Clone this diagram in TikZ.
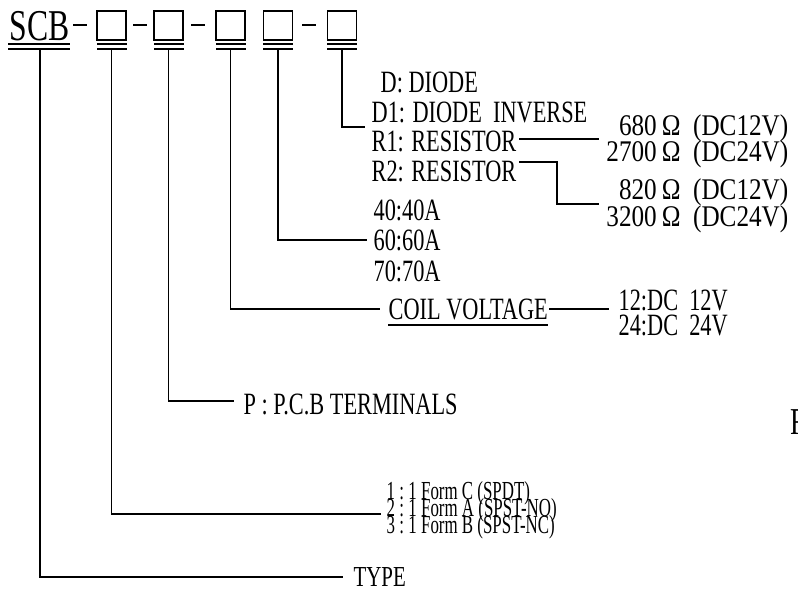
\documentclass[tikz,border=0pt]{standalone}
\usepackage{fontspec}
\setmainfont[FakeStretch=0.72]{Liberation Serif}
\newfontfamily\widefont[FakeStretch=0.84]{Liberation Serif}
\newfontfamily\narrowfont[FakeStretch=0.65]{Liberation Serif}
\usetikzlibrary{calc}

\begin{document}
\begin{tikzpicture}[x=1pt,y=-1pt,line width=1.3pt,line cap=butt,line join=miter,
  txt/.style={inner sep=0pt,anchor=base west,font=\fontsize{31}{33}\selectfont},
  rtxt/.style={inner sep=0pt,anchor=base east,font=\widefont\fontsize{30}{32}\selectfont},
  small/.style={inner sep=0pt,anchor=base west,font=\narrowfont\fontsize{26}{17}\selectfont},
  codebox/.style={draw,line width=1.4pt,minimum size=29pt,inner sep=0pt}]
\useasboundingbox (0,0) rectangle (798,589);

\def\ua{44}
\def\ub{49}

% part number
\node[inner sep=0pt,anchor=base west,font=\fontsize{44}{44}\selectfont] (scb) at (9,40) {SCB};
\node[codebox] (b1) at (111.5,25.5) {};
\node[codebox] (b2) at (168.5,25.5) {};
\node[codebox] (b3) at (230.5,25.5) {};
\node[codebox] (b4) at (278,25.5) {};
\node[codebox] (b5) at (342,25.5) {};

\foreach \xa/\xb in {73/87,133/147,191/205,302/316}
  \draw[line width=1.8pt] (\xa,25) -- (\xb,25);

\foreach \xa/\xb in {8/70,97/127,154/184,216/246,263/293,327/357} {
  \draw (\xa,\ua) -- (\xb,\ua);
  \draw (\xa,\ub) -- (\xb,\ub);
}

\coordinate (t0) at (40,\ub);
\coordinate (t1) at ($(b1.south)+(0,9)$);
\coordinate (t2) at ($(b2.south)+(0,9)$);
\coordinate (t3) at ($(b3.south)+(0,9)$);
\coordinate (t4) at ($(b4.south)+(0,9)$);
\coordinate (t5) at ($(b5.south)+(0,9)$);

% options
\node[txt] (dio) at (380,92) {D: DIODE};
\node[txt] (dinv) at (371,122) {D1: DIODE\ \ INVERSE};
\node[txt] (r1) at (371,151) {R1: RESISTOR};
\node[txt] (r2) at (371,181) {R2: RESISTOR};

\node[rtxt] (o680) at (789,135) {680\,Ω\ \ (DC12V)};
\node[rtxt] (o2700) at (789,161) {2700\,Ω\ \ (DC24V)};
\node[rtxt] (o820) at (789,199) {820\,Ω\ \ (DC12V)};
\node[rtxt] (o3200) at (789,226) {3200\,Ω\ \ (DC24V)};

\node[txt] (a40) at (373,220) {40:40A};
\node[txt] (a60) at (373,250) {60:60A};
\node[txt] (a70) at (373,281) {70:70A};

\node[txt] (coil) at (388,319) {COIL VOLTAGE};
\node[txt] (v12) at (618,310) {12:DC\ \ 12V};
\node[txt] (v24) at (618,335) {24:DC\ \ 24V};

\node[txt] (pcb) at (243,414) {P : P.C.B TERMINALS};

\node[small] (f1) at (386,499) {1\,:\,1 Form C (SPDT)};
\node[small] (f2) at (386,516) {2\,:\,1 Form A (SPST-NO)};
\node[small] (f3) at (386,533) {3\,:\,1 Form B (SPST-NC)};

\node[inner sep=0pt,anchor=base west,font=\fontsize{29}{29}\selectfont] (type) at (353,586) {TYPE};

\node[inner sep=0pt,anchor=base west,font=\fontsize{38}{38}\selectfont] (cut) at (790,434) {F};

% leaders
\coordinate (e5) at (365,127);
\coordinate (e4) at (367,240);
\coordinate (e3) at (380,309);
\coordinate (e2) at (234,401);
\coordinate (e1) at (381,514);
\coordinate (e0) at (343,577);

\draw (t5) |- (e5);
\draw (t4) |- (e4);
\draw (t3) |- (e3);
\draw (t2) |- (e2);
\draw (t1) |- (e1);
\draw (t0) |- (e0);

% second level
\coordinate (r1b) at (599,139);
\coordinate (r2k) at (557,162);
\coordinate (r2b) at (599,204);
\draw ([xshift=2pt]r1.east |- r1b) -- (r1b);
\draw ([xshift=2pt]r2.east |- r2k) -- (r2k) |- (r2b);

\draw (coil.south west |- 0,325) -- (coil.south east |- 0,325);
\coordinate (c1) at (609,309);
\draw ([xshift=1pt]coil.east |- c1) -- (c1);
\end{tikzpicture}
\end{document}
